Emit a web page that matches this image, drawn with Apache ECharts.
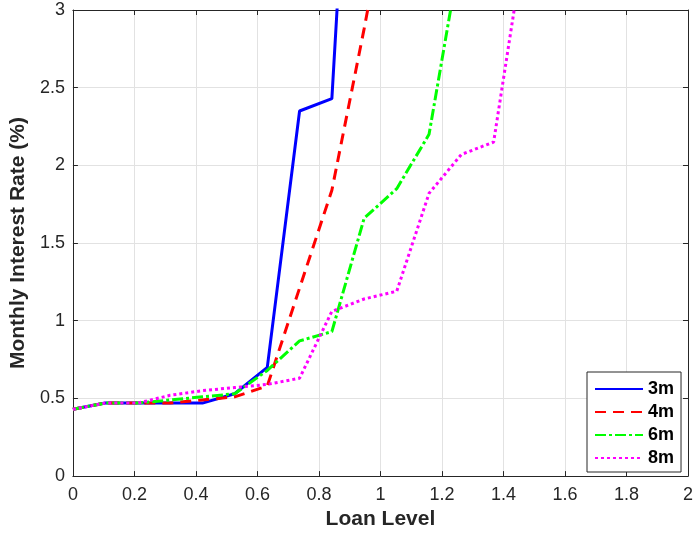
<!DOCTYPE html>
<html>
<head>
<meta charset="utf-8">
<script src="https://cdn.jsdelivr.net/npm/echarts@6/dist/echarts.min.js"></script>
<style>
  html, body { margin: 0; padding: 0; background: #fff; }
  #chart { width: 696px; height: 535px; }
</style>
</head>
<body>
<div id="chart"></div>
<script>
// Loan level grid (x) and monthly interest rate (%) per maturity
const loanLevel = [0, 0.105, 0.211, 0.316, 0.421, 0.526, 0.632, 0.737, 0.842, 0.947, 1.053, 1.158, 1.263, 1.368, 1.474];
const rate3m = [0.43, 0.47, 0.47, 0.47, 0.47, 0.53, 0.70, 2.35, 2.43, 6.0];
const rate4m = [0.43, 0.47, 0.47, 0.47, 0.49, 0.51, 0.58, 1.21, 1.84, 2.88, 4.0];
const rate6m = [0.43, 0.47, 0.47, 0.49, 0.51, 0.53, 0.68, 0.87, 0.93, 1.66, 1.85, 2.20, 3.4];
const rate8m = [0.43, 0.47, 0.47, 0.52, 0.55, 0.57, 0.59, 0.63, 1.06, 1.14, 1.19, 1.82, 2.07, 2.15, 3.5];
const seriesNames = ['3m', '4m', '6m', '8m'];

// Axis ticks
const xTicks = [0, 0.2, 0.4, 0.6, 0.8, 1, 1.2, 1.4, 1.6, 1.8, 2];
const yTicks = [0, 0.5, 1, 1.5, 2, 2.5, 3];

const FONT = '"Liberation Sans", Arial, Helvetica, sans-serif';
const AXIS_COLOR = '#262626';
const GRID_COLOR = '#e2e2e2';

function pairs(values) {
  return values.map((v, i) => [loanLevel[i], v]);
}

const xRange = { min: xTicks[0], max: xTicks[xTicks.length - 1], interval: xTicks[1] - xTicks[0] };
const yRange = { min: yTicks[0], max: yTicks[yTicks.length - 1], interval: yTicks[1] - yTicks[0] };

const chart = echarts.init(document.getElementById('chart'), null, { renderer: 'canvas' });

const baseAxis = {
  type: 'value',
  axisLine: { show: true, onZero: false, lineStyle: { color: AXIS_COLOR, width: 1 } },
  axisTick: { show: true, inside: true, length: 5, lineStyle: { color: AXIS_COLOR, width: 1 } },
};

chart.setOption({
  animation: false,
  backgroundColor: '#ffffff',
  grid: { left: 71, right: 0, top: 10, bottom: 55, containLabel: false },
  xAxis: [
    Object.assign({}, baseAxis, xRange, {
      position: 'bottom',
      name: 'Loan Level',
      nameLocation: 'middle',
      nameGap: 30,
      nameTextStyle: { fontFamily: FONT, fontSize: 21, fontWeight: 'bold', color: AXIS_COLOR },
      axisLabel: { fontFamily: FONT, fontSize: 18, color: AXIS_COLOR, margin: 10 },
      splitLine: { show: true, lineStyle: { color: GRID_COLOR, width: 1 } },
    }),
    Object.assign({}, baseAxis, xRange, {
      position: 'top',
      axisLabel: { show: false },
      splitLine: { show: false },
    }),
  ],
  yAxis: [
    Object.assign({}, baseAxis, yRange, {
      position: 'left',
      name: 'Monthly Interest Rate (%)',
      nameLocation: 'middle',
      nameGap: 39,
      nameTextStyle: { fontFamily: FONT, fontSize: 21, fontWeight: 'bold', color: AXIS_COLOR },
      axisLabel: { fontFamily: FONT, fontSize: 18, color: AXIS_COLOR, margin: 8 },
      splitLine: { show: true, lineStyle: { color: GRID_COLOR, width: 1 } },
    }),
    Object.assign({}, baseAxis, yRange, {
      position: 'right',
      axisLabel: { show: false },
      splitLine: { show: false },
    }),
  ],
  legend: {
    orient: 'vertical',
    left: 587,
    top: 372,
    padding: [8, 7, 5, 7],
    itemWidth: 48,
    itemHeight: 14,
    itemGap: 5,
    borderColor: AXIS_COLOR,
    borderWidth: 1,
    borderRadius: 0,
    backgroundColor: '#ffffff',
    itemStyle: { opacity: 0 },
    textStyle: { fontFamily: FONT, fontSize: 18, fontWeight: 'bold', color: '#000' },
    data: seriesNames,
  },
  series: [
    {
      name: seriesNames[0], type: 'line', data: pairs(rate3m), symbol: 'none', clip: true,
      lineStyle: { color: '#0000ff', width: 3, type: 'solid' },
      itemStyle: { color: '#0000ff' },
    },
    {
      name: seriesNames[1], type: 'line', data: pairs(rate4m), symbol: 'none', clip: true,
      lineStyle: { color: '#ff0000', width: 3, type: [11, 7] },
      itemStyle: { color: '#ff0000' },
    },
    {
      name: seriesNames[2], type: 'line', data: pairs(rate6m), symbol: 'none', clip: true,
      lineStyle: { color: '#00ff00', width: 3, type: [11, 3, 3, 3] },
      itemStyle: { color: '#00ff00' },
    },
    {
      name: seriesNames[3], type: 'line', data: pairs(rate8m), symbol: 'none', clip: true,
      lineStyle: { color: '#ff00ff', width: 3, type: [3, 3] },
      itemStyle: { color: '#ff00ff' },
    },
  ],
});
</script>
</body>
</html>
